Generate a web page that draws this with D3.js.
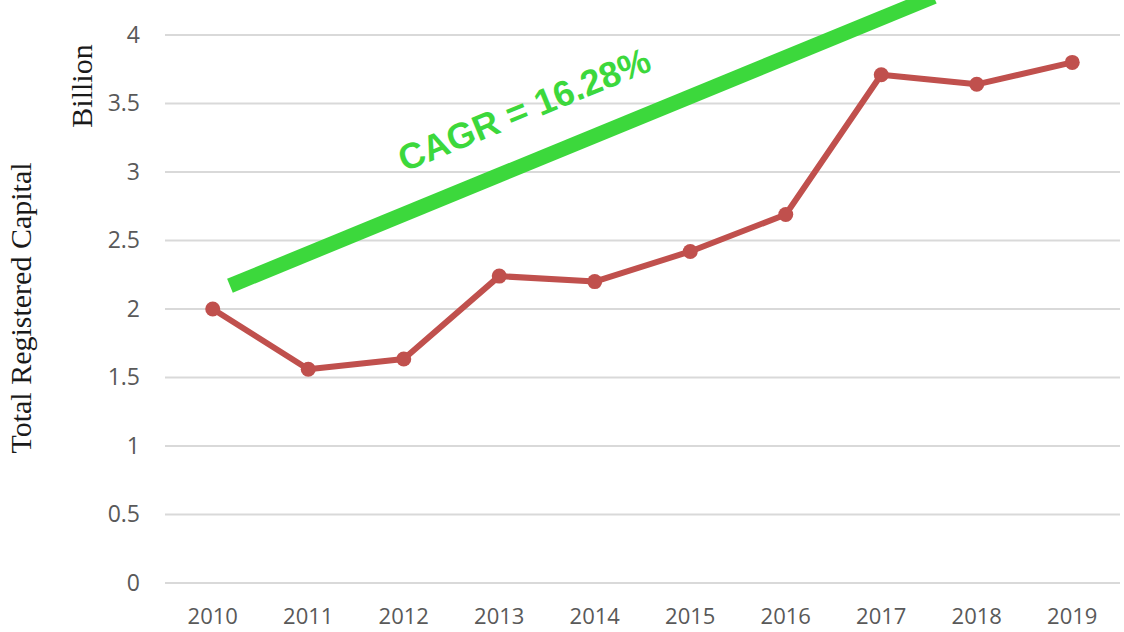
<!DOCTYPE html>
<html><head><meta charset="utf-8">
<script src="https://cdn.jsdelivr.net/npm/d3@7"></script>
<style>body{margin:0;background:#fff}svg{display:block}</style>
</head><body>
<svg id="chart" width="1124" height="632"></svg>
<script>
const years = ["2010","2011","2012","2013","2014","2015","2016","2017","2018","2019"];
const capital = [2.0, 1.56, 1.635, 2.24, 2.20, 2.42, 2.69, 3.71, 3.64, 3.80];
const yTicks = [0, 0.5, 1, 1.5, 2, 2.5, 3, 3.5, 4];
const yTickLabels = ["0","0.5","1","1.5","2","2.5","3","3.5","4"];
const cagrLabel = "CAGR = 16.28%";
// trend line endpoints in data units (year index, value)
const trendStart = [0.18, 2.17];
const trendEnd = [7.55, 4.28];

const svg = d3.select("#chart");
const x = d3.scaleBand().domain(years).range([165, 1120]).padding(0);
const xi = d3.scaleLinear().domain([0, 9]).range([x(years[0]) + x.bandwidth()/2, x(years[9]) + x.bandwidth()/2]);
const y = d3.scaleLinear().domain([0, 4]).range([583, 35]);

// gridlines
svg.append("g").selectAll("line").data(yTicks).join("line")
  .attr("x1", 165).attr("x2", 1120)
  .attr("y1", d => y(d)).attr("y2", d => y(d))
  .attr("stroke", "#d9d9d9").attr("stroke-width", 2);

// y axis labels
const yAxis = d3.axisLeft(y).tickValues(yTicks).tickFormat((d,i) => yTickLabels[i]).tickSize(0).tickPadding(0);
const yg = svg.append("g").attr("transform", "translate(140,0)").call(yAxis);
yg.select(".domain").remove();
yg.selectAll("text").attr("font-family", "Open Sans").attr("font-size", 23).attr("fill", "#595959");

// x axis labels
const xAxis = d3.axisBottom(x).tickSize(0).tickPadding(0);
const xg = svg.append("g").attr("transform", "translate(0,608)").call(xAxis);
xg.select(".domain").remove();
xg.selectAll("text").attr("font-family", "Open Sans").attr("font-size", 22).attr("fill", "#595959");

// axis titles
svg.append("text").attr("transform", "translate(92,86) rotate(-90)")
  .attr("text-anchor", "middle").attr("font-family", "Liberation Serif").attr("font-size", 30)
  .attr("fill", "#1a1a1a").text("Billion");
svg.append("text").attr("transform", "translate(31,308) rotate(-90)")
  .attr("text-anchor", "middle").attr("font-family", "Liberation Serif").attr("font-size", 30)
  .attr("fill", "#1a1a1a").text("Total Registered Capital");

// red line
const cx = (d,i) => x(years[i]) + x.bandwidth()/2;
svg.append("path").datum(capital)
  .attr("d", d3.line().x(cx).y(d => y(d)))
  .attr("fill", "none").attr("stroke", "#c0504d").attr("stroke-width", 6).attr("stroke-linejoin", "round");
svg.append("g").selectAll("circle").data(capital).join("circle")
  .attr("cx", cx).attr("cy", d => y(d)).attr("r", 7.5).attr("fill", "#c0504d");

// trend line
const x0 = xi(trendStart[0]), y0 = y(trendStart[1]);
const x1 = xi(trendEnd[0]), y1 = y(trendEnd[1]);
svg.append("line").attr("x1", x0).attr("y1", y0).attr("x2", x1).attr("y2", y1)
  .attr("stroke", "#3cd83c").attr("stroke-width", 15);
const ang = Math.atan2(y1 - y0, x1 - x0) * 180 / Math.PI;
svg.append("text").attr("transform", `translate(529,121) rotate(${ang})`)
  .attr("text-anchor", "middle").attr("font-family", "Liberation Sans").attr("font-weight", "bold")
  .attr("font-size", 36).attr("fill", "#3cd83c").text(cagrLabel);
</script>
</body></html>
